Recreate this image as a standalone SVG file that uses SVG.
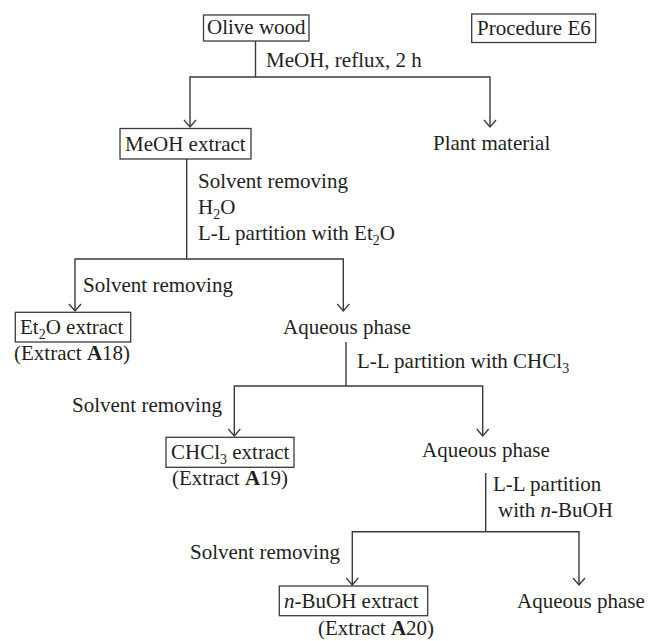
<svg xmlns="http://www.w3.org/2000/svg" width="649" height="641" viewBox="0 0 649 641">
<style>
text{font-family:"Liberation Serif","Times New Roman",serif;font-size:21px;fill:#231f20}
.sub{font-size:14px}
.box{fill:#fff;stroke:#3a3a3a;stroke-width:1.3}
.ln{fill:none;stroke:#3a3a3a;stroke-width:1.4}
.ar{fill:none;stroke:#3a3a3a;stroke-width:1.3}
</style>
<rect width="649" height="641" fill="#fff"/>
<g id="connectors">
<path class="ln" d="M255.5,41 V77 M190,127 V77 H490 V127"/>
<path class="ar" d="M184,120 L190,127 L196,120 M484,120 L490,127 L496,120"/>
<path class="ln" d="M186.7,159 V259 M75,311 V259 H343.3 V311"/>
<path class="ar" d="M69,304 L75,311 L81,304 M337.3,304 L343.3,311 L349.3,304"/>
<path class="ln" d="M346,342 V386 M234.3,436 V386 H482.7 V436"/>
<path class="ar" d="M228.3,429 L234.3,436 L240.3,429 M476.7,429 L482.7,436 L488.7,429"/>
<path class="ln" d="M485.7,473 V531.7 M352.3,585 V531.7 H579 V585"/>
<path class="ar" d="M346.3,578 L352.3,585 L358.3,578 M573,578 L579,585 L585,578"/>
<text x="266" y="67">MeOH, reflux, 2 h</text>
<text x="198" y="188">Solvent removing</text>
<text x="198" y="214">H<tspan class="sub" dy="5">2</tspan><tspan dy="-5">O</tspan></text>
<text x="198" y="240">L-L partition with Et<tspan class="sub" dy="5">2</tspan><tspan dy="-5">O</tspan></text>
<text x="83" y="292">Solvent removing</text>
<text x="357" y="368">L-L partition with CHCl<tspan class="sub" dy="5">3</tspan></text>
<text x="72" y="412">Solvent removing</text>
<text x="493" y="491">L-L partition</text>
<text x="498" y="517">with <tspan font-style="italic">n</tspan>-BuOH</text>
<text x="190" y="559">Solvent removing</text>
</g>
<g id="olive-wood">
<rect class="box" x="203.5" y="15" width="105.5" height="26"/>
<text x="207" y="34">Olive wood</text>
</g>
<g id="procedure-e6">
<rect class="box" x="471.7" y="14" width="124" height="28.5"/>
<text x="477" y="35">Procedure E6</text>
</g>
<g id="meoh-extract">
<rect class="box" x="120" y="128.5" width="131" height="30.5"/>
<text x="125" y="151">MeOH extract</text>
</g>
<g id="plant-material">
<text x="433" y="150">Plant material</text>
</g>
<g id="et2o-extract">
<rect class="box" x="15.3" y="312.3" width="115.4" height="29.7"/>
<text x="20" y="334">Et<tspan class="sub" dy="5">2</tspan><tspan dy="-5">O extract</tspan></text>
<text x="14" y="360">(Extract <tspan font-weight="bold">A</tspan>18)</text>
</g>
<g id="aqueous-1">
<text x="283" y="334">Aqueous phase</text>
</g>
<g id="chcl3-extract">
<rect class="box" x="166" y="437.3" width="128" height="30"/>
<text x="171" y="459">CHCl<tspan class="sub" dy="5">3</tspan><tspan dy="-5"> extract</tspan></text>
<text x="172" y="485">(Extract <tspan font-weight="bold">A</tspan>19)</text>
</g>
<g id="aqueous-2">
<text x="422" y="457">Aqueous phase</text>
</g>
<g id="nbuoh-extract">
<rect class="box" x="279.3" y="586" width="148.4" height="29.7"/>
<text x="284" y="608"><tspan font-style="italic">n</tspan>-BuOH extract</text>
<text x="318" y="635">(Extract <tspan font-weight="bold">A</tspan>20)</text>
</g>
<g id="aqueous-3">
<text x="517" y="608">Aqueous phase</text>
</g>
</svg>
